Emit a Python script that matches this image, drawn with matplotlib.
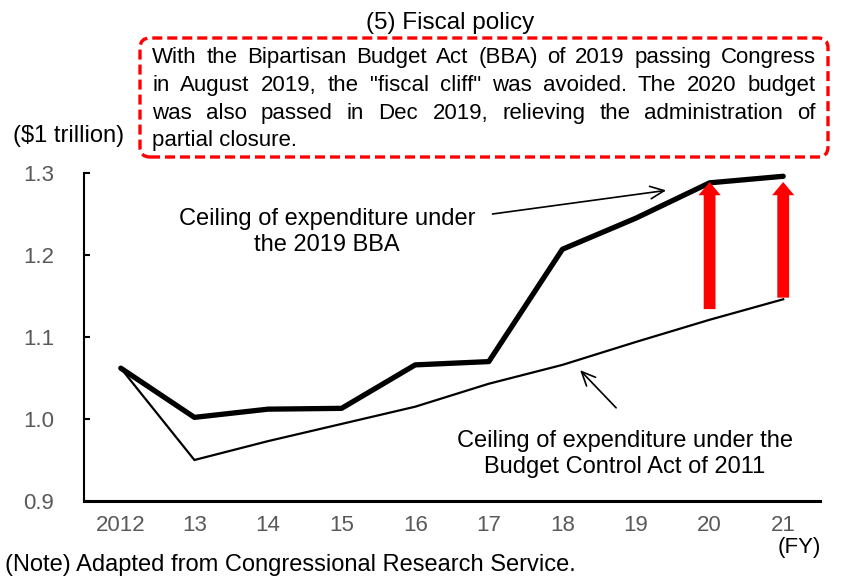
import matplotlib
matplotlib.use("Agg")
import matplotlib.pyplot as plt
from matplotlib.patches import FancyBboxPatch

plt.rcParams['font.family'] = ['Liberation Sans', 'DejaVu Sans']

# data ($1 trillion)
years = [2012, 2013, 2014, 2015, 2016, 2017, 2018, 2019, 2020, 2021]
year_labels = ['2012', '13', '14', '15', '16', '17', '18', '19', '20', '21']
bba2019 = [1.062, 1.002, 1.012, 1.013, 1.066, 1.070, 1.207, 1.245, 1.288, 1.296]
bca2011 = [1.062, 0.950, 0.973, 0.994, 1.015, 1.043, 1.066, 1.094, 1.121, 1.146]
arrow_years = [2020, 2021]
arrow_lo = [1.134, 1.148]
arrow_hi = [1.289, 1.289]
yticks = [0.9, 1.0, 1.1, 1.2, 1.3]

box_lines = [
    'With the Bipartisan Budget Act (BBA) of 2019 passing Congress',
    'in August 2019, the "fiscal cliff" was avoided. The 2020 budget',
    'was also passed in Dec 2019, relieving the administration of',
    'partial closure.',
]

FS = 16    # ticks, box
FA = 17    # annotations, notes
W, H = 849, 576
fig = plt.figure(figsize=(W / 100, H / 100), dpi=100)
ax = fig.add_axes([84 / W, 1 - 501 / H, 736 / W, 328 / H])

ax.plot(years, bca2011, color='black', lw=1.6, solid_joinstyle='miter', zorder=3)
ax.plot(years, bba2019, color='black', lw=3.8, solid_joinstyle='round',
        solid_capstyle='round', zorder=4)

# red arrows: rise from the 2011 ceiling to the 2019 BBA ceiling
for yr, lo, hi in zip(arrow_years, arrow_lo, arrow_hi):
    ax.annotate('', xy=(yr, hi), xytext=(yr, lo),
                arrowprops=dict(arrowstyle='simple,head_length=0.95,head_width=1.6,tail_width=0.85',
                                color='#ff0000', lw=0, shrinkA=0, shrinkB=0,
                                mutation_scale=10), zorder=5)

ax.set_xlim(2011.5, 2021.5)
ax.set_ylim(0.9, 1.3)
ax.set_yticks(yticks)
ax.set_yticklabels([f'{v:.1f}' for v in yticks])
ax.set_xticks(years)
ax.set_xticklabels(year_labels)
ax.tick_params(axis='y', direction='in', length=4.5, width=1.5, pad=21.5,
               labelsize=FS, labelcolor='#595959')
ax.tick_params(axis='x', length=0, pad=10, labelsize=FS, labelcolor='#595959')
for s in ['top', 'right']:
    ax.spines[s].set_visible(False)
ax.spines['left'].set_linewidth(1.5)
ax.spines['bottom'].set_linewidth(2.2)

# annotations
ax.text(0.330, 0.820, 'Ceiling of expenditure under\nthe 2019 BBA', transform=ax.transAxes,
        ha='center', va='center', fontsize=FA, linespacing=1.25)
ax.annotate('', xy=(0.791, 0.947), xytext=(0.555, 0.875), xycoords='axes fraction',
            textcoords='axes fraction',
            arrowprops=dict(arrowstyle='->,head_length=1.0,head_width=0.45', color='black',
                            lw=1.2, shrinkA=0, shrinkB=0))
ax.text(0.735, 0.143, 'Ceiling of expenditure under the\nBudget Control Act of 2011',
        transform=ax.transAxes, ha='center', va='center', fontsize=FA, linespacing=1.25)
ax.annotate('', xy=(0.674, 0.399), xytext=(0.723, 0.284), xycoords='axes fraction',
            textcoords='axes fraction',
            arrowprops=dict(arrowstyle='->,head_length=1.0,head_width=0.45', color='black',
                            lw=1.2, shrinkA=0, shrinkB=0))

# figure texts
fig.text(450 / W, 1 - 29 / H, '(5) Fiscal policy', ha='center', va='baseline', fontsize=17.5)
fig.text(69 / W, 1 - 142 / H, '($1 trillion)', ha='center', va='baseline', fontsize=FA)
fig.text(778 / W, 1 - 553 / H, '(FY)', ha='left', va='baseline', fontsize=FS)
fig.text(5 / W, 1 - 571 / H, '(Note) Adapted from Congressional Research Service.',
         ha='left', va='baseline', fontsize=FA)

# dashed red rounded box
box = FancyBboxPatch((140 / 100, (H - 157) / 100), 688 / 100, 119 / 100,
                     boxstyle='round,pad=0,rounding_size=0.1', transform=fig.dpi_scale_trans,
                     fill=False, edgecolor='#ff0000', lw=2.4, linestyle=(0, (3, 1.5)))
fig.add_artist(box)

# justified text inside the box
fig.canvas.draw()
renderer = fig.canvas.get_renderer()
x_left, x_right = 152, 816
baselines = [63, 91, 119, 146]
for k, (line, yb) in enumerate(zip(box_lines, baselines)):
    words = line.split()
    yf = 1 - yb / H
    if k == len(box_lines) - 1 or len(words) == 1:
        fig.text(x_left / W, yf, line, ha='left', va='baseline', fontsize=FS)
        continue
    arts = [fig.text(0, yf, w_, ha='left', va='baseline', fontsize=FS) for w_ in words]
    widths = [a.get_window_extent(renderer).width for a in arts]
    gap = (x_right - x_left - sum(widths)) / (len(words) - 1)
    x = x_left
    for a, wd in zip(arts, widths):
        a.set_x(x / W)
        x += wd + gap

fig.savefig('out.png', dpi=100)
